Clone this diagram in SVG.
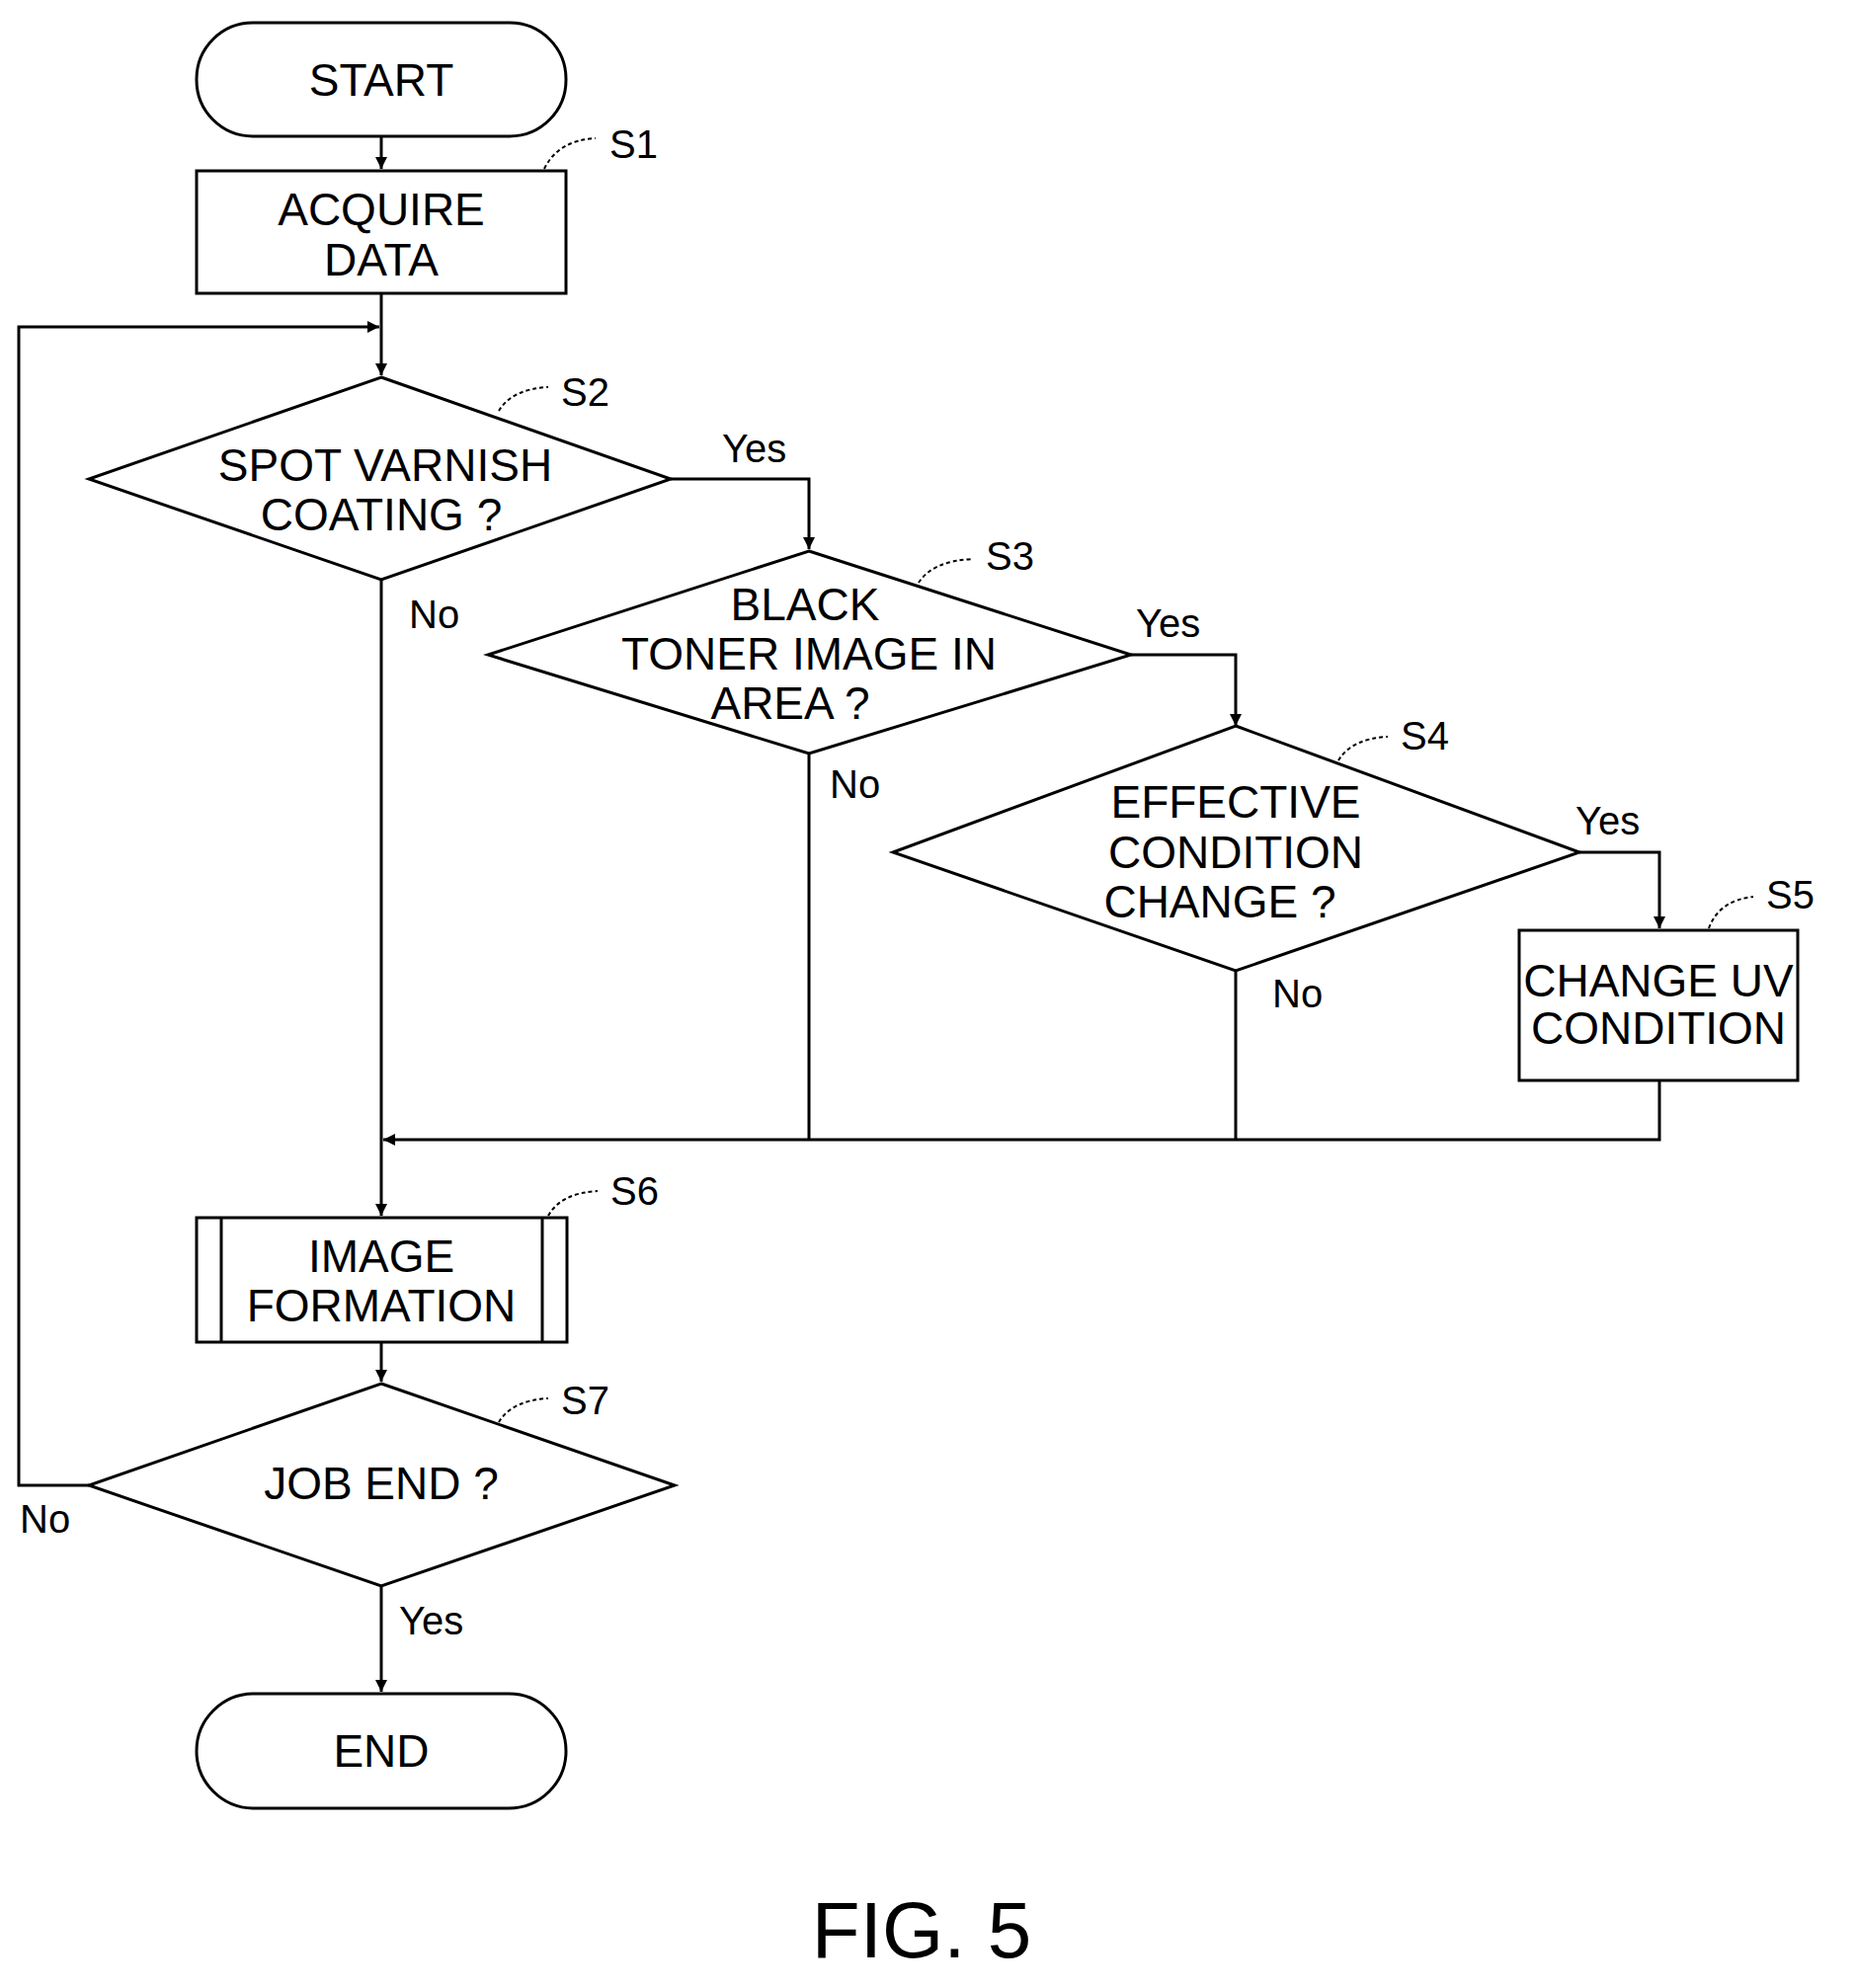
<svg xmlns="http://www.w3.org/2000/svg" width="1879" height="2013" viewBox="0 0 1879 2013">
<defs>
<style>
.s{fill:none;stroke:#000;stroke-width:3}
.t{font-family:"Liberation Sans",Arial,sans-serif;font-size:46px;text-anchor:middle;fill:#000}
.l{font-family:"Liberation Sans",Arial,sans-serif;font-size:40px;fill:#000}
.ld{fill:none;stroke:#000;stroke-width:2;stroke-dasharray:4 3}
</style>
<marker id="a" markerWidth="14" markerHeight="14" refX="12" refY="7" orient="auto" markerUnits="userSpaceOnUse"><path d="M0,1 L12,7 L0,13 Z" fill="#000"/></marker>
</defs>
<rect width="1879" height="2013" fill="#fff"/>
<g id="connectors">
<path class="s" d="M386,138 V171" marker-end="url(#a)"/>
<path class="s" d="M386,297 V380" marker-end="url(#a)"/>
<path class="s" d="M90,1504 H19 V331 H384" marker-end="url(#a)"/>
<path class="s" d="M679,485 H819 V556" marker-end="url(#a)"/>
<path class="s" d="M1145,663 H1251 V735" marker-end="url(#a)"/>
<path class="s" d="M1599,863 H1680 V940" marker-end="url(#a)"/>
<path class="s" d="M386,587 V1231" marker-end="url(#a)"/>
<path class="s" d="M1680,1094 V1154 H388" marker-end="url(#a)"/>
<path class="s" d="M819,763 V1154"/>
<path class="s" d="M1251,983 V1154"/>
<path class="s" d="M386,1359 V1399" marker-end="url(#a)"/>
<path class="s" d="M386,1606 V1713" marker-end="url(#a)"/>
<text class="l" x="731" y="468">Yes</text>
<text class="l" x="414" y="636">No</text>
<text class="l" x="1150" y="645">Yes</text>
<text class="l" x="840" y="808">No</text>
<text class="l" x="1595" y="845">Yes</text>
<text class="l" x="1288" y="1020">No</text>
<text class="l" x="20" y="1552">No</text>
<text class="l" x="404" y="1655">Yes</text>
</g>
<g id="start"><rect class="s" x="199" y="23" width="374" height="115" rx="57"/><text class="t" x="386" y="97">START</text></g>
<g id="s1"><rect class="s" x="199" y="173" width="374" height="124"/><text class="t" x="386" y="228">ACQUIRE</text><text class="t" x="386" y="279">DATA</text>
<path class="ld" d="M551,171 Q565,142 603,140"/><text class="l" x="617" y="160">S1</text></g>
<g id="s2"><polygon class="s" points="386,382 679,485 386,587 90,485"/><text class="t" x="390" y="487">SPOT VARNISH</text><text class="t" x="386" y="537">COATING ?</text>
<path class="ld" d="M505,416 Q518,394 555,392"/><text class="l" x="568" y="411">S2</text></g>
<g id="s3"><polygon class="s" points="819,558 1145,663 819,763 494,663"/><text class="t" x="815" y="628">BLACK</text><text class="t" x="819" y="678">TONER IMAGE IN</text><text class="t" x="800" y="728">AREA ?</text>
<path class="ld" d="M930,590 Q944,568 985,566"/><text class="l" x="998" y="577">S3</text></g>
<g id="s4"><polygon class="s" points="1251,735 1599,863 1251,983 904,863"/><text class="t" x="1251" y="828">EFFECTIVE</text><text class="t" x="1251" y="879">CONDITION</text><text class="t" x="1235" y="929">CHANGE ?</text>
<path class="ld" d="M1355,770 Q1368,748 1405,746"/><text class="l" x="1418" y="759">S4</text></g>
<g id="s5"><rect class="s" x="1538" y="942" width="282" height="152"/><text class="t" x="1679" y="1009">CHANGE UV</text><text class="t" x="1679" y="1057">CONDITION</text>
<path class="ld" d="M1730,940 Q1740,912 1775,908"/><text class="l" x="1788" y="920">S5</text></g>
<g id="s6"><rect class="s" x="199" y="1233" width="375" height="126"/><path class="s" d="M224,1233 V1359 M549,1233 V1359"/><text class="t" x="386" y="1288">IMAGE</text><text class="t" x="386" y="1338">FORMATION</text>
<path class="ld" d="M555,1231 Q568,1208 605,1206"/><text class="l" x="618" y="1220">S6</text></g>
<g id="s7"><polygon class="s" points="386,1401 683,1504 386,1606 90,1504"/><text class="t" x="386" y="1518">JOB END ?</text>
<path class="ld" d="M505,1440 Q518,1418 555,1416"/><text class="l" x="568" y="1432">S7</text></g>
<g id="end"><rect class="s" x="199" y="1715" width="374" height="116" rx="58"/><text class="t" x="386" y="1789">END</text></g>
<text x="933" y="1982" font-family="Liberation Sans,Arial,sans-serif" font-size="80" text-anchor="middle">FIG. 5</text>
</svg>
